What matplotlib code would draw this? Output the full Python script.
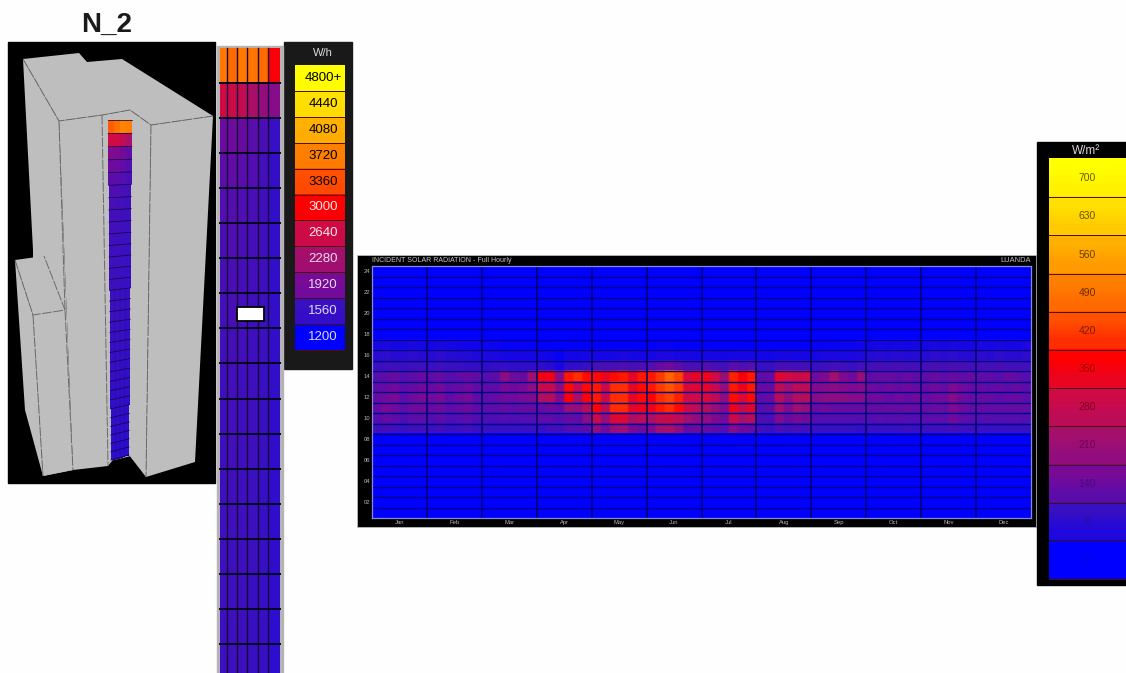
from matplotlib import pyplot as plt
from matplotlib.colors import LinearSegmentedColormap, Normalize
from matplotlib.patches import Polygon, Rectangle
import numpy as np

# legend colours, low to high (same scale on both legends)
scale_colors = ['#0000ff', '#3a10c0', '#7a0a95', '#a5106b', '#d00a45', '#ff0000',
                '#ff5000', '#ff8000', '#ffb000', '#ffe000', '#ffff00']

wh_labels = ['4800+', '4440', '4080', '3720', '3360', '3000', '2640', '2280', '1920', '1560', '1200']
wm2_labels = ['700', '630', '560', '490', '420', '350', '280', '210', '140', '70', '0']

months = ['Jan', 'Feb', 'Mar', 'Apr', 'May', 'Jun', 'Jul', 'Aug', 'Sep', 'Oct', 'Nov', 'Dec']
hour_labels = ['24', '22', '20', '18', '16', '14', '12', '10', '08', '06', '04', '02']

# incident radiation W/m2, 6 columns per month
hour_17 = [30, 35, 30, 30, 35, 30, 30, 35, 30, 25, 20, 20, 15, 15, 10, 10, 10, 10,
           5, 5, 0, 5, 5, 5, 5, 5, 5, 5, 5, 5, 5, 10, 10, 5, 5, 5,
           5, 5, 5, 5, 5, 5, 5, 5, 5, 5, 5, 5, 10, 10, 10, 15, 15, 20,
           25, 30, 25, 30, 25, 30, 30, 35, 30, 35, 30, 30, 35, 30, 35, 30, 30, 35]
hour_16 = [50, 55, 50, 50, 55, 50, 50, 55, 50, 45, 45, 40, 35, 35, 30, 30, 30, 30,
           25, 20, 10, 25, 25, 30, 30, 30, 30, 35, 30, 30, 30, 35, 35, 30, 30, 30,
           30, 30, 25, 30, 30, 30, 25, 25, 30, 30, 30, 30, 30, 35, 35, 35, 35, 40,
           45, 50, 45, 50, 45, 50, 50, 55, 50, 55, 50, 50, 55, 50, 55, 50, 50, 55]
hour_15 = [70, 75, 75, 70, 75, 75, 70, 75, 70, 70, 65, 65, 60, 65, 65, 60, 60, 60,
           60, 50, 30, 60, 60, 70, 90, 90, 90, 95, 90, 95, 100, 120, 130, 110, 90, 90,
           100, 90, 80, 105, 95, 105, 70, 70, 85, 85, 80, 85, 70, 75, 80, 75, 70, 80,
           80, 85, 80, 85, 80, 80, 85, 90, 85, 90, 85, 80, 85, 80, 85, 80, 80, 80]
hour_14 = [100, 110, 120, 100, 110, 120, 110, 120, 100, 110, 120, 110, 100, 110, 170, 130, 120, 200,
           330, 330, 170, 370, 390, 360, 360, 320, 360, 370, 310, 370, 370, 400, 450, 410, 290, 310,
           330, 280, 190, 380, 340, 370, 110, 120, 300, 280, 270, 280, 130, 150, 210, 150, 130, 190,
           110, 120, 120, 110, 120, 110, 110, 120, 110, 120, 110, 120, 110, 110, 100, 120, 110, 100]
hour_13 = [110, 120, 130, 110, 120, 130, 120, 130, 110, 120, 130, 110, 110, 110, 140, 130, 140, 170,
           270, 270, 170, 360, 260, 360, 370, 270, 390, 390, 310, 360, 370, 400, 430, 400, 290, 300,
           310, 260, 180, 370, 320, 370, 120, 120, 250, 200, 250, 250, 150, 160, 170, 160, 150, 160,
           130, 120, 130, 120, 130, 120, 120, 130, 120, 150, 130, 120, 120, 110, 120, 110, 120, 110]
hour_12 = [120, 130, 140, 110, 130, 140, 130, 140, 110, 130, 140, 110, 110, 120, 130, 130, 140, 150,
           230, 240, 150, 340, 210, 350, 370, 260, 390, 390, 310, 360, 350, 390, 410, 380, 280, 280,
           290, 250, 170, 360, 300, 360, 110, 120, 240, 180, 230, 240, 160, 170, 170, 170, 160, 160,
           130, 130, 120, 130, 120, 130, 120, 130, 130, 160, 130, 120, 120, 120, 110, 120, 120, 110]
hour_11 = [120, 140, 130, 110, 130, 130, 120, 130, 110, 120, 130, 110, 110, 110, 120, 110, 120, 120,
           120, 130, 120, 190, 180, 240, 350, 240, 390, 390, 310, 320, 320, 370, 390, 360, 270, 250,
           230, 190, 150, 320, 260, 310, 100, 110, 200, 150, 200, 180, 120, 130, 120, 120, 120, 120,
           120, 120, 125, 120, 125, 120, 120, 125, 120, 150, 130, 120, 120, 115, 120, 115, 120, 115]
hour_10 = [100, 120, 110, 95, 110, 110, 100, 110, 95, 100, 110, 95, 95, 95, 100, 95, 100, 100,
           110, 110, 100, 120, 110, 170, 270, 180, 300, 300, 220, 250, 220, 260, 270, 250, 200, 180,
           180, 150, 130, 270, 210, 240, 90, 90, 150, 120, 140, 130, 100, 100, 100, 100, 100, 100,
           100, 105, 100, 105, 100, 100, 105, 110, 105, 130, 110, 105, 100, 105, 100, 100, 105, 100]
hour_09 = [75, 85, 80, 70, 80, 80, 75, 80, 70, 75, 80, 70, 70, 70, 70, 70, 70, 70,
           70, 80, 80, 100, 100, 110, 180, 130, 190, 200, 140, 130, 150, 210, 220, 180, 120, 130,
           120, 110, 100, 160, 130, 120, 80, 70, 90, 80, 90, 80, 70, 70, 70, 70, 70, 65,
           70, 70, 70, 70, 75, 70, 75, 75, 75, 85, 75, 75, 70, 70, 70, 70, 70, 70]

# facade strip next to the legend, W/h, top floors first
panel_rows = [[3640, 3560, 3660, 3620, 3560, 2950],
              [2640, 2600, 2520, 2320, 2140, 2020],
              [1840, 1860, 1820, 1740, 1660, 1540],
              [1760, 1780, 1740, 1700, 1620, 1530],
              [1700, 1720, 1680, 1650, 1600, 1520],
              [1660, 1680, 1650, 1630, 1590, 1520],
              [1640, 1650, 1630, 1610, 1580, 1520],
              [1620, 1640, 1620, 1600, 1570, 1510],
              [1610, 1630, 1610, 1590, 1570, 1510],
              [1600, 1620, 1600, 1590, 1560, 1510],
              [1600, 1610, 1600, 1580, 1560, 1500],
              [1590, 1610, 1600, 1580, 1560, 1500],
              [1590, 1600, 1590, 1570, 1550, 1500],
              [1580, 1600, 1590, 1570, 1550, 1500],
              [1580, 1590, 1580, 1570, 1550, 1500],
              [1580, 1590, 1580, 1560, 1540, 1500],
              [1570, 1590, 1580, 1560, 1540, 1490],
              [1570, 1580, 1580, 1560, 1540, 1490]]

# same facade on the building, top floors first
strip_rows = [[3450, 3600, 3750, 3700],
              [2640, 2640, 2500, 2300],
              [2000, 1950, 1900, 1800],
              [1860, 1840, 1780, 1720],
              [1760, 1740, 1700, 1660],
              [1680, 1670, 1640, 1610],
              [1640, 1630, 1610, 1580],
              [1620, 1620, 1600, 1580],
              [1610, 1610, 1590, 1570],
              [1600, 1600, 1580, 1570],
              [1600, 1590, 1580, 1560],
              [1590, 1590, 1570, 1560],
              [1590, 1580, 1570, 1550],
              [1580, 1580, 1560, 1550],
              [1580, 1570, 1560, 1540],
              [1570, 1570, 1550, 1540],
              [1570, 1560, 1550, 1540],
              [1560, 1560, 1550, 1530],
              [1560, 1550, 1540, 1530],
              [1550, 1550, 1540, 1530],
              [1550, 1540, 1540, 1520],
              [1540, 1540, 1530, 1520],
              [1540, 1530, 1530, 1520],
              [1530, 1530, 1520, 1510],
              [1530, 1520, 1520, 1510],
              [1520, 1520, 1510, 1500],
              [1520, 1510, 1510, 1500],
              [1510, 1510, 1500, 1490],
              [1510, 1500, 1500, 1490],
              [1500, 1500, 1490, 1480],
              [1500, 1490, 1490, 1480],
              [1490, 1490, 1480, 1470]]

W, H = 1126, 673
cmap = LinearSegmentedColormap.from_list('ecotect', scale_colors)
norm_wm2 = Normalize(0, 700)
norm_wh = Normalize(1200, 4800)


def pixel_axes(x0, y0, x1, y1):
    # axes placed by picture pixels, y going down
    return fig.add_axes([x0 / W, 1 - y1 / H, (x1 - x0) / W, (y1 - y0) / H])


def legend(ax, x0, x1, y0, step, labels, label_colors, size, fade, text_x):
    n = len(labels)
    for i, lab in enumerate(labels):
        top = 1 - i / (n - 1)
        bottom = max(top - fade / (n - 1), 0)
        grad = np.array([[top], [bottom]])
        ax.imshow(grad, extent=[x0, x1, y0 + (i + 1) * step, y0 + i * step], cmap=cmap, vmin=0, vmax=1,
                  aspect='auto', interpolation='bilinear', zorder=3)
        ax.plot([x0, x1], [y0 + (i + 1) * step] * 2, color='#4a1008', lw=0.7, zorder=4)
        ax.text(text_x, y0 + (i + 0.5) * step, lab, color=label_colors[i], fontsize=size,
                ha='center', va='center', zorder=5)


fig = plt.figure(figsize=(W / 100, H / 100), dpi=100, facecolor='#fefefe')
plt.rcParams['font.family'] = ['Liberation Sans', 'DejaVu Sans']

ax = fig.add_axes([0, 0, 1, 1])
ax.set_axis_off()

# black backdrops
ax.add_patch(Rectangle((8, 42), 207, 441, color='black'))
ax.add_patch(Rectangle((284, 42), 68, 327, color='#191919'))
ax.add_patch(Rectangle((357, 255), 679, 272, fc='black', ec='#bbbbbb', lw=0.6))
ax.add_patch(Rectangle((1037, 142), 89, 443, color='black'))

ax.text(107, 25, 'N_2', fontsize=20, fontweight='bold', ha='center', va='center', color='#1a1a1a')

# building, drawn in picture pixels
grey = '#bebebe'
faces = [[(23, 59), (79, 53), (87, 62), (122, 59), (213, 116), (151, 125), (130, 110), (102, 115), (59, 121)],
         [(23, 59), (59, 121), (73, 470), (43, 476), (33, 314), (33, 250)],
         [(59, 121), (102, 115), (108, 120), (112, 461), (108, 466), (73, 470)],
         [(102, 115), (130, 110), (134, 118), (131, 456), (110, 461), (107, 122)],
         [(130, 110), (151, 125), (146, 477), (129, 455)],
         [(151, 125), (213, 116), (195, 462), (146, 477)],
         [(15, 260), (44, 256), (65, 310), (33, 315)],
         [(15, 260), (33, 315), (43, 476), (25, 410)],
         [(33, 315), (65, 310), (73, 470), (43, 476)]]
for f in faces:
    ax.add_patch(Polygon(f, closed=True, fc=grey, ec='none', zorder=1))

edges = [[(23, 59), (59, 121), (102, 115), (130, 110), (151, 125), (213, 116)],
         [(59, 121), (65, 310), (73, 470)],
         [(102, 115), (108, 466)],
         [(151, 125), (146, 477)],
         [(15, 260), (33, 315), (65, 310), (44, 256)],
         [(33, 315), (43, 476)]]
for e in edges:
    xs, ys = zip(*e)
    ax.plot(xs, ys, color='#6a6a6a', lw=0.7, ls=(0, (10, 1.5)), zorder=2)

# facade cells on the building
strip_vals = np.array(strip_rows)
n_floors = strip_vals.shape[0]
heights = np.geomspace(14, 8.5, n_floors)
frac = np.r_[0, np.cumsum(heights)] / heights.sum()
left_x = 108 + 3 * frac
right_x = 132 - 3 * frac
top_y = 120 + 340 * frac
strip_x = np.array([left_x + (right_x - left_x) * k / 4 for k in range(5)]).T
strip_y = np.array([top_y - 5 * frac * k / 4 for k in range(5)]).T
ax.pcolormesh(strip_x, strip_y, strip_vals, cmap=cmap, norm=norm_wh, zorder=3)
ax.plot(strip_x.T, strip_y.T, color='#14064a', lw=0.55, zorder=4)
ax.plot(strip_x[14:, 1:4], strip_y[14:, 1:4], color='#14064a', lw=0.3, alpha=0.5, zorder=4)

# facade strip with its white tag
ax.add_patch(Rectangle((217, 46), 66, 630, color='#b4b4b4', zorder=1))
panel_x = [220, 227, 237, 247, 258, 268, 280]
panel_y = 48 + 35.05 * np.arange(len(panel_rows) + 1)
ax.pcolormesh(panel_x, panel_y, np.array(panel_rows), cmap=cmap, norm=norm_wh, zorder=2)
for px in panel_x[1:-1]:
    ax.axvline(px, ymin=1 - 673 / H, ymax=1 - 48 / H, color='#180838', lw=1.0, zorder=3)
for py in panel_y[1:]:
    ax.plot([220, 280], [py, py], color='#06001e', lw=1.4, zorder=3)
ax.add_patch(Rectangle((237, 307), 27, 14, fc='white', ec='black', lw=1.3, zorder=4))

# both legends
wh_text = ['black'] * 5 + ['#ffe8e8', '#ffe8e8', '#f0d8f0', '#e8d8f0', '#dcd8f4', '#d8d8f8']
wm2_text = ['#6a5a00', '#6a5000', '#6a4000', '#6a2c00', '#7a1c00', '#a00000', '#800020', '#700050', '#4a0880', '#2a0ca8', '#0808d0']
legend(ax, 295, 345, 65, 25.9, wh_labels, wh_text, 9.5, 0.1, 323)
legend(ax, 1049, 1126, 159, 38.2, wm2_labels, wm2_text, 7.5, 0.45, 1087)
ax.text(323, 53, 'W/h', color='#dddddd', fontsize=8, ha='center', va='center')
ax.text(1086, 151, 'W/m²', color='#d8d8d8', fontsize=8.5, ha='center', va='center')

ax.set_xlim(0, W)
ax.set_ylim(H, 0)

# hourly heatmap, rows labelled 24 at the top down to 01
rows = np.zeros((24, 72))
for hour, vals in [(17, hour_17), (16, hour_16), (15, hour_15), (14, hour_14), (13, hour_13),
                   (12, hour_12), (11, hour_11), (10, hour_10), (9, hour_09)]:
    rows[24 - hour] = vals

hm = pixel_axes(372, 266, 1031, 518)
# one image per row so the smoothing only runs along the year, repeat keeps the blocks flat
for r in range(24):
    hm.imshow(np.repeat(rows[r:r + 1], 4, axis=1), cmap=cmap, norm=norm_wm2, aspect='auto',
              extent=[0, 12, r + 1, r], interpolation='bilinear')
hm.set_xlim(0, 12)
hm.set_ylim(24, 0)
for i in range(1, 24):
    hm.axhline(i, color='#00008c', lw=1.0)
for i in range(1, 12):
    hm.axvline(i, color='#00006a', lw=1.1)
for s in hm.spines.values():
    s.set_color('#8888d4')
    s.set_linewidth(0.9)
hm.set_xticks(np.arange(12) + 0.5, months)
hm.set_yticks(np.arange(0, 24, 2) + 0.5, hour_labels)
hm.tick_params(length=0, labelsize=4.2, labelcolor='#b8b8b8', pad=1.5)
hm.text(0, -0.55, 'INCIDENT SOLAR RADIATION - Full Hourly', color='#c8c8c8', fontsize=5, ha='left', va='center')
hm.text(12, -0.55, 'LUANDA', color='#c0c0c0', fontsize=5.4, ha='right', va='center')

fig.savefig('out.png', dpi=100, facecolor=fig.get_facecolor())
plt.close()
